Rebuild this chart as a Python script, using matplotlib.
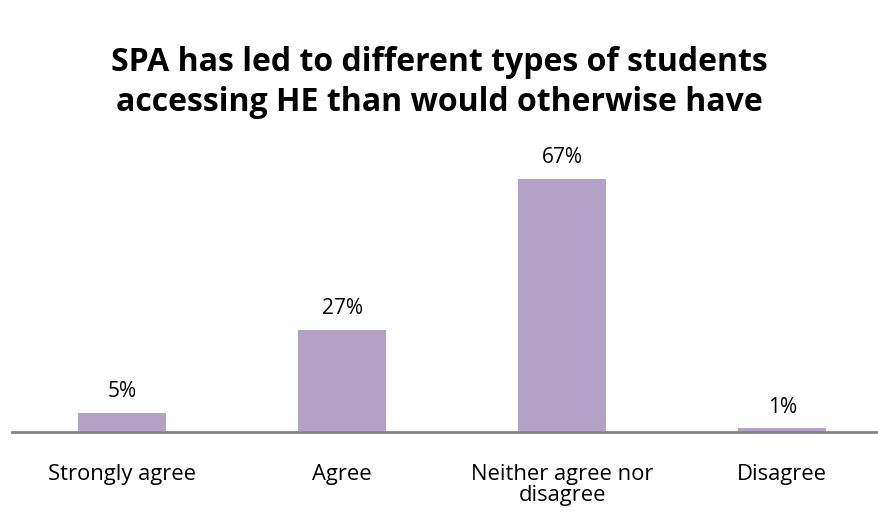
import matplotlib.pyplot as plt

categories = ['Strongly agree', 'Agree', 'Neither agree nor\ndisagree', 'Disagree']
values = [5, 27, 67, 1]
labels = ['5%', '27%', '67%', '1%']
title_lines = ['SPA has led to different types of students',
               'accessing HE than would otherwise have']

plt.rcParams['font.family'] = ['Open Sans', 'DejaVu Sans']

W, H = 879, 513
fig = plt.figure(figsize=(W / 100, H / 100), dpi=100)
# baseline at y=432 px, 100% = 253/67*100 px
ax = fig.add_axes([12 / W, (H - 432) / H, 867 / W, 253 / 67 * 100 / H])

x = range(len(categories))
bars = ax.bar(x, values, width=0.4, color='#B2A2C7')
for b, lab in zip(bars, labels):
    ax.text(b.get_x() + b.get_width() / 2, b.get_height() + 5.6, lab,
            ha='center', va='center', fontsize=15, color='#000000')

ax.set_ylim(0, 100)
ax.set_xlim(-0.5, 3.44)
ax.set_xticks(list(x))
ax.set_xticklabels(categories, fontsize=15.8, linespacing=0.98)
ax.tick_params(axis='x', length=0, pad=23)
ax.set_yticks([])
for s in ['top', 'right', 'left']:
    ax.spines[s].set_visible(False)
ax.spines['bottom'].set_color('#868686')
ax.spines['bottom'].set_linewidth(2)

# title, two lines placed separately
fig.text(0.5, 1 - 63 / H, title_lines[0], ha='center', va='center',
         fontsize=23, fontweight='bold')
fig.text(0.5, 1 - 103 / H, title_lines[1], ha='center', va='center',
         fontsize=23, fontweight='bold')

fig.savefig('out.png', dpi=100)
